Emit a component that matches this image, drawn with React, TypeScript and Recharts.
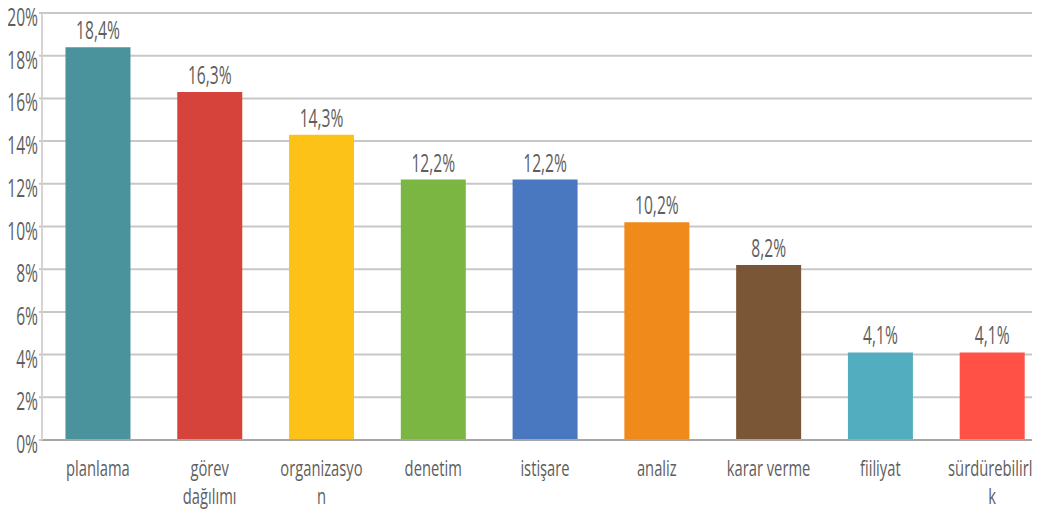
import { BarChart, Bar, XAxis, YAxis, CartesianGrid, Cell, LabelList } from 'recharts';

// categories, as they wrap in the original
const categories = [
  'planlama',
  'görev\ndağılımı',
  'organizasyo\nn',
  'denetim',
  'istişare',
  'analiz',
  'karar verme',
  'fiiliyat',
  'sürdürebilirli\nk',
];
const shares = [18.4, 16.3, 14.3, 12.2, 12.2, 10.2, 8.2, 4.1, 4.1];
const barColors = ['#4a929c', '#d5433b', '#fdc218', '#7cb642', '#4a78c0', '#f08a1a', '#7b5636', '#52aebe', '#ff5146'];
const yTicks = [0, 2, 4, 6, 8, 10, 12, 14, 16, 18, 20];

const data = categories.map((name, i) => ({ name, value: shares[i] }));

const FONT = '"Open Sans", sans-serif';
const TEXT = '#5e5e5e';

// text is squashed horizontally in the original, so scale it
function Squeezed({ x, y, size, squeeze, anchor, children }: any) {
  return (
    <text
      transform={`translate(${x},${y}) scale(${squeeze},1)`}
      textAnchor={anchor}
      fontFamily={FONT}
      fontSize={size}
      fill={TEXT}
    >
      {children}
    </text>
  );
}

function YTick({ y, payload }: any) {
  return (
    <Squeezed x={38} y={y + 13} size={26} squeeze={0.6} anchor="end">
      {payload.value}%
    </Squeezed>
  );
}

function XTick({ x, y, payload }: any) {
  const lines = String(payload.value).split('\n');
  return (
    <g>
      {lines.map((line, i) => (
        <Squeezed key={i} x={x} y={y + 28 + i * 28} size={22} squeeze={0.67} anchor="middle">
          {line}
        </Squeezed>
      ))}
    </g>
  );
}

function ValueLabel({ x, y, width, value }: any) {
  return (
    <Squeezed x={x + width / 2} y={y - 8} size={26} squeeze={0.6} anchor="middle">
      {String(value).replace('.', ',')}%
    </Squeezed>
  );
}

export default function App() {
  return (
    <div style={{ marginLeft: -8, marginTop: -8, background: '#fff', width: 1048, height: 523 }}>
      <BarChart
        width={1048}
        height={523}
        data={data}
        margin={{ top: 13, right: 0, left: 0, bottom: 0 }}
        barCategoryGap="21%"
      >
        <CartesianGrid vertical={false} stroke="#c8c8c8" strokeWidth={2} />
        <XAxis
          dataKey="name"
          interval={0}
          height={83}
          tick={<XTick />}
          tickLine={false}
          axisLine={{ stroke: '#a6a6a6', strokeWidth: 2 }}
        />
        <YAxis
          width={42}
          domain={[0, 20]}
          ticks={yTicks}
          tick={<YTick />}
          tickSize={3}
          tickMargin={2}
          tickLine={{ stroke: '#c8c8c8', strokeWidth: 2 }}
          axisLine={{ stroke: '#d4d4d4', strokeWidth: 2 }}
        />
        <Bar dataKey="value" isAnimationActive={false}>
          {data.map((d, i) => (
            <Cell key={d.name} fill={barColors[i]} />
          ))}
          <LabelList dataKey="value" content={<ValueLabel />} />
        </Bar>
      </BarChart>
    </div>
  );
}
